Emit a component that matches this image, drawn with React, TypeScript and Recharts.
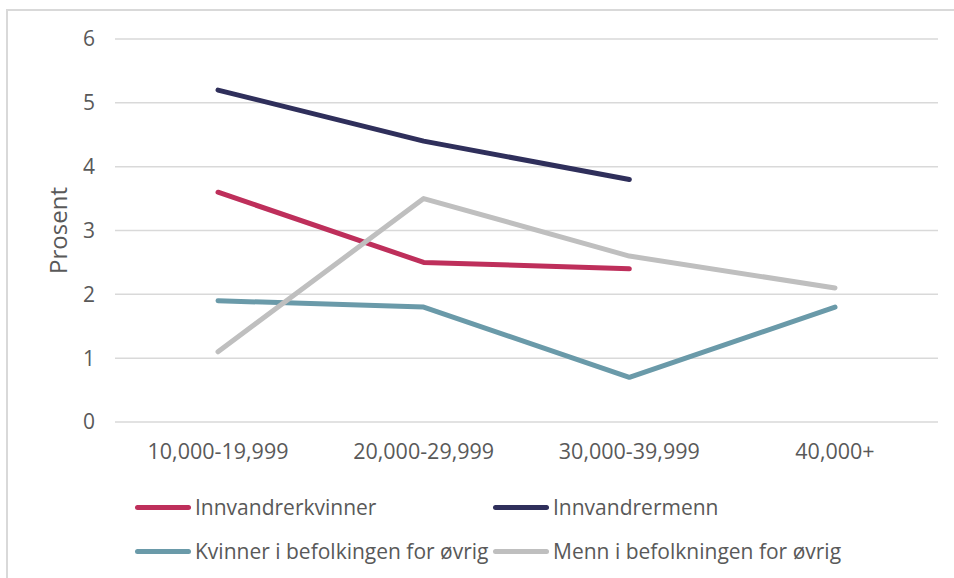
import React from "react";
import { LineChart, Line, XAxis, YAxis, CartesianGrid } from "recharts";

const categories = ["10,000-19,999", "20,000-29,999", "30,000-39,999", "40,000+"];
const innvandrerkvinner = [3.6, 2.5, 2.4, null];
const innvandrermenn = [5.2, 4.4, 3.8, null];
const kvinnerOvrig = [1.9, 1.8, 0.7, 1.8];
const mennOvrig = [1.1, 3.5, 2.6, 2.1];
const yTicks = [0, 1, 2, 3, 4, 5, 6];

const SERIES = [
  { key: "ik", name: "Innvandrerkvinner", color: "#BE2F5B", values: innvandrerkvinner },
  { key: "im", name: "Innvandrermenn", color: "#2F2F5B", values: innvandrermenn },
  { key: "ko", name: "Kvinner i befolkingen for øvrig", color: "#6A9AA9", values: kvinnerOvrig },
  { key: "mo", name: "Menn i befolkningen for øvrig", color: "#BFBFBF", values: mennOvrig },
];

const FONT = "'Open Sans', sans-serif";
const TEXT = "#595959";

const chartData = categories.map((cat, i) => {
  const row: Record<string, string | number | null> = { cat };
  SERIES.forEach((s) => {
    row[s.key] = s.values[i];
  });
  return row;
});

// legend sits in a 2x2 grid under the axis
const LEGEND_POS = [
  { left: 135, top: 494 },
  { left: 493, top: 494 },
  { left: 135, top: 538 },
  { left: 493, top: 538 },
];

export default function App() {
  return (
    <div style={{ position: "absolute", left: 0, top: 0, width: 954, height: 578, background: "#fff", fontFamily: FONT }}>
      <div
        style={{
          position: "absolute",
          left: 6,
          top: 9,
          width: 960,
          height: 600,
          borderLeft: "2px solid #D9D9D9",
          borderTop: "2px solid #D9D9D9",
        }}
      />
      <div style={{ position: "absolute", left: 0, top: 0 }}>
        <LineChart width={954} height={578} data={chartData} margin={{ top: 39, right: 16, bottom: 0, left: 0 }}>
          <CartesianGrid vertical={false} stroke="#D9D9D9" strokeWidth={1.5} />
          <XAxis
            dataKey="cat"
            height={156}
            axisLine={false}
            tickLine={false}
            tickSize={0}
            tickMargin={22}
            padding={{ left: 103, right: 103 }}
            tick={{ fill: TEXT, fontSize: 21.5, fontFamily: FONT }}
            interval={0}
          />
          <YAxis
            width={115}
            domain={[0, 6]}
            ticks={yTicks}
            axisLine={false}
            tickLine={false}
            tickSize={0}
            tickMargin={20}
            tick={{ fill: TEXT, fontSize: 21, fontFamily: FONT }}
            label={{
              value: "Prosent",
              angle: -90,
              position: "insideLeft",
              offset: 58,
              style: { textAnchor: "middle", fill: TEXT, fontSize: 24, fontFamily: FONT },
            }}
          />
          {SERIES.map((s) => (
            <Line
              key={s.key}
              dataKey={s.key}
              name={s.name}
              stroke={s.color}
              strokeWidth={5}
              strokeLinecap="round"
              strokeLinejoin="round"
              dot={false}
              activeDot={false}
              connectNulls={false}
              isAnimationActive={false}
            />
          ))}
        </LineChart>
      </div>
      {SERIES.map((s, i) => (
        <div
          key={s.key}
          style={{
            position: "absolute",
            left: LEGEND_POS[i].left,
            top: LEGEND_POS[i].top,
            display: "flex",
            alignItems: "center",
            height: 26,
            whiteSpace: "nowrap",
          }}
        >
          <span style={{ display: "inline-block", width: 56, height: 5, borderRadius: 3, background: s.color, marginRight: 4 }} />
          <span style={{ color: TEXT, fontSize: 21 }}>{s.name}</span>
        </div>
      ))}
    </div>
  );
}
